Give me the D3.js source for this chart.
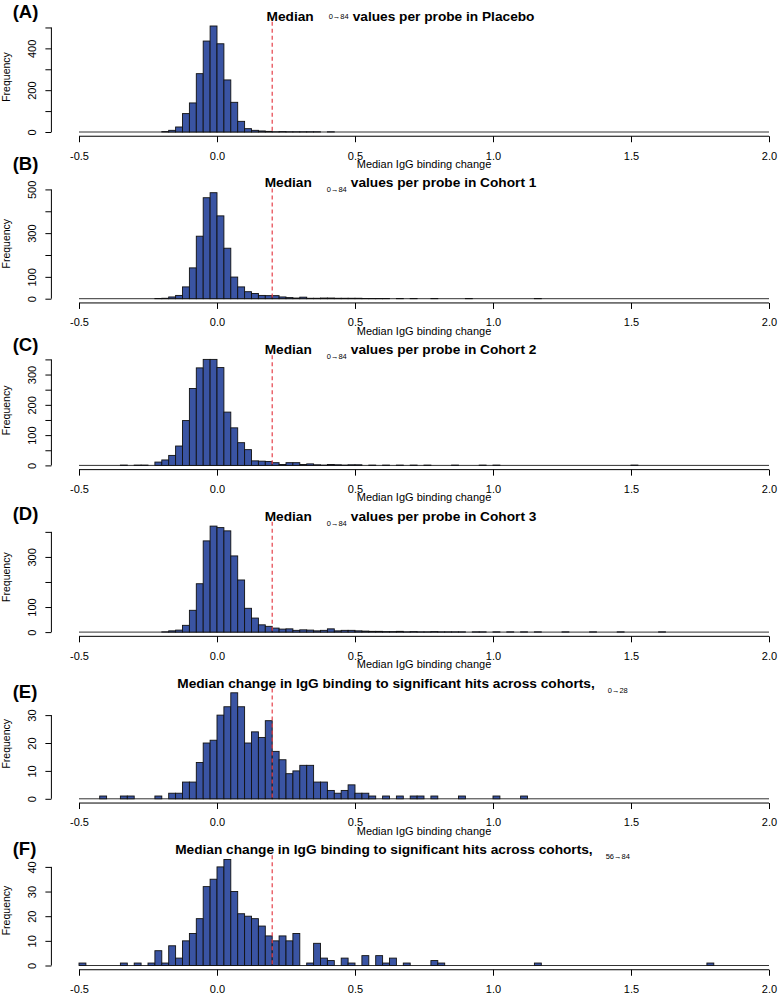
<!DOCTYPE html>
<html><head><meta charset="utf-8">
<script src="https://cdn.jsdelivr.net/npm/d3@7"></script>
<style>html,body{margin:0;padding:0;background:#fff;} svg{display:block;}</style>
</head><body>
<svg id="chart" width="779" height="996"></svg>
<script>
// ---------------- DATA ----------------
const binWidth = 0.025;
const xRange = [-0.5, 2.0];
const refLine = 0.2;

const edgesA  = [-0.2,-0.175,-0.15,-0.125,-0.1,-0.075,-0.05,-0.025,0,0.025,0.05,0.075,0.1,0.125,0.15,0.175,0.2,0.225,0.25,0.275,0.3,0.325,0.35,0.4];
const countsA = [2,8,24,88,139,279,435,507,422,249,142,51,16,8,5,3,1,2,1,1,1,1,1,1];

const edgesB  = [-0.225,-0.2,-0.175,-0.15,-0.125,-0.1,-0.075,-0.05,-0.025,0,0.025,0.05,0.075,0.1,0.125,0.15,0.175,0.2,0.225,0.25,0.275,0.3,0.325,0.35,0.375,0.4,0.425,0.45,0.475,0.5,0.525,0.55,0.575,0.6,0.65,0.7,0.775,0.9,1.15];
const countsB = [1,2,8,15,54,141,286,462,485,379,231,99,54,32,24,15,14,14,8,5,3,7,2,2,3,3,2,2,2,2,1,1,1,1,1,1,1,1,1];

const edgesC  = [-0.35,-0.3,-0.275,-0.225,-0.2,-0.175,-0.15,-0.125,-0.1,-0.075,-0.05,-0.025,0,0.025,0.05,0.075,0.1,0.125,0.15,0.175,0.2,0.225,0.25,0.275,0.3,0.325,0.35,0.375,0.4,0.425,0.45,0.475,0.5,0.55,0.6,0.65,0.7,0.75,0.85,0.95,1.0,1.5];
const countsC = [1,1,1,11,18,33,64,148,254,322,350,350,323,176,124,75,52,15,14,13,9,3,9,9,3,5,2,1,3,2,1,2,2,1,1,1,1,1,1,1,1,1];

const edgesD  = [-0.2,-0.175,-0.15,-0.125,-0.1,-0.075,-0.05,-0.025,0,0.025,0.05,0.075,0.1,0.125,0.15,0.175,0.2,0.225,0.25,0.275,0.3,0.325,0.35,0.375,0.4,0.425,0.45,0.475,0.5,0.525,0.55,0.575,0.6,0.625,0.65,0.675,0.7,0.725,0.75,0.775,0.8,0.825,0.85,0.875,0.925,0.95,1.0,1.05,1.1,1.15,1.25,1.35,1.45,1.6];
const countsD = [1,5,8,27,87,193,364,423,417,404,304,208,95,56,29,23,16,12,13,7,9,8,5,7,13,5,7,7,5,4,3,3,2,2,3,1,2,1,1,2,1,1,1,1,1,1,1,1,1,1,1,1,1,1];

const edgesE  = [-0.425,-0.35,-0.325,-0.225,-0.175,-0.15,-0.125,-0.1,-0.075,-0.05,-0.025,0,0.025,0.05,0.075,0.1,0.125,0.15,0.175,0.2,0.225,0.25,0.275,0.3,0.325,0.35,0.375,0.4,0.425,0.45,0.475,0.5,0.525,0.55,0.6,0.65,0.7,0.725,0.775,0.875,1.0,1.1];
const countsE = [1,1,1,1,2,2,6,6,13,20,21,30,33,38,33,20,24,22,28,17,14,9,10,12,12,6,6,3,2,3,5,2,2,1,1,1,1,1,1,1,1,1];

const edgesF  = [-0.5,-0.35,-0.3,-0.25,-0.225,-0.2,-0.175,-0.15,-0.125,-0.1,-0.075,-0.05,-0.025,0,0.025,0.05,0.075,0.1,0.125,0.15,0.175,0.2,0.225,0.25,0.275,0.325,0.35,0.375,0.4,0.45,0.475,0.525,0.575,0.6,0.625,0.675,0.775,0.8,1.15,1.775];
const countsF = [1,1,1,1,6,1,8,3,10,13,19,32,35,40,43,30,21,20,19,16,12,10,12,10,13,1,9,3,2,3,1,4,4,1,3,1,2,1,1,1];

const xTicks = [-0.5, 0, 0.5, 1.0, 1.5, 2.0];
const xTickLabels = ["-0.5", "0.0", "0.5", "1.0", "1.5", "2.0"];

const yTicksA = [0,100,200,300,400,500]; const yLabelsA = [0,200,400];
const yTicksB = [0,100,200,300,400,500]; const yLabelsB = [0,100,300,500];
const yTicksC = [0,50,100,150,200,250,300,350]; const yLabelsC = [0,100,200,300];
const yTicksD = [0,100,200,300,400]; const yLabelsD = [0,100,300];
const yTicksE = [0,10,20,30]; const yLabelsE = [0,10,20,30];
const yTicksF = [0,10,20,30,40]; const yLabelsF = [0,10,20,30,40];

const panelLetters = ["(A)","(B)","(C)","(D)","(E)","(F)"];
const titleMain = ["Median","Median","Median","Median",
  "Median change in IgG binding to significant hits across cohorts,",
  "Median change in IgG binding to significant hits across cohorts,"];
const titleSub = ["0\u219284","0\u219284","0\u219284","0\u219284","0\u219228","56\u219284"];
const titleTail = ["values per probe in Placebo","values per probe in Cohort 1",
  "values per probe in Cohort 2","values per probe in Cohort 3","",""];
const xLabel = "Median IgG binding change";
const yLabel = "Frequency";

// ---------------- LAYOUT ----------------
const panels = [
  {edges: edgesA, counts: countsA, yTicks: yTicksA, yLabels: yLabelsA},
  {edges: edgesB, counts: countsB, yTicks: yTicksB, yLabels: yLabelsB},
  {edges: edgesC, counts: countsC, yTicks: yTicksC, yLabels: yLabelsC},
  {edges: edgesD, counts: countsD, yTicks: yTicksD, yLabels: yLabelsD},
  {edges: edgesE, counts: countsE, yTicks: yTicksE, yLabels: yLabelsE},
  {edges: edgesF, counts: countsF, yTicks: yTicksF, yLabels: yLabelsF}
];
const FONT = "'Liberation Sans', Arial, Helvetica, sans-serif";
const plotLeft = 51.4, plotRight = 796.6;
const firstZero = 132, panelStep = 166.7, barSpan = 106;
const letterBaselines = [18, 169.5, 350.5, 519.5, 698, 854.5];
const titleCenters = [400.5, 400.5, 400.5, 400.5, 402.5, 402.5];
const subShift = [-2, 5, 5, 5, 5, 5];
const barFill = "#3a54a3";

const svg = d3.select("#chart");
const pad = 0.04 * (xRange[1] - xRange[0]);
const x = d3.scaleLinear().domain([xRange[0] - pad, xRange[1] + pad]).range([plotLeft, plotRight]);

panels.forEach((p, i) => {
  const y0 = firstZero + i * panelStep;
  const maxC = d3.max(p.counts);
  const y = d3.scaleLinear().domain([0, maxC]).range([y0, y0 - barSpan]);
  const yBottom = y(-0.04 * maxC), yTop = y(1.04 * maxC);
  const g = svg.append("g");

  // zero-count baseline (borders of empty bins)
  g.append("line")
    .attr("x1", x(xRange[0])).attr("x2", x(xRange[1]))
    .attr("y1", y(0)).attr("y2", y(0))
    .attr("stroke", "#333").attr("stroke-width", 1);

  // bars
  g.selectAll("rect.bar").data(p.edges.map((e, k) => ({e, c: p.counts[k]})))
    .join("rect")
    .attr("class", "bar")
    .attr("x", d => x(d.e))
    .attr("width", d => x(d.e + binWidth) - x(d.e))
    .attr("y", d => y(d.c))
    .attr("height", d => y(0) - y(d.c))
    .attr("fill", barFill)
    .attr("stroke", "#111")
    .attr("stroke-width", 0.9);

  // reference dashed line
  g.append("line")
    .attr("x1", x(refLine)).attr("x2", x(refLine))
    .attr("y1", yTop).attr("y2", y(0))
    .attr("stroke", "#e5404a").attr("stroke-width", 1.2)
    .attr("stroke-dasharray", "4,3");

  // x axis
  const xa = g.append("g").attr("transform", `translate(0,${yBottom})`)
    .call(d3.axisBottom(x).tickValues(xTicks).tickSize(6)
      .tickFormat((d, k) => xTickLabels[k]));
  xa.select(".domain").remove();
  xa.append("line").attr("x1", x(xTicks[0])).attr("x2", x(xTicks[xTicks.length - 1]))
    .attr("y1", 0).attr("y2", 0).attr("stroke", "#000");
  xa.selectAll(".tick line").attr("stroke", "#000");
  xa.selectAll(".tick text").attr("y", 23.3).attr("dy", null)
    .attr("font-family", FONT).attr("font-size", 11).attr("fill", "#000");

  // y axis
  const ya = g.append("g").attr("transform", `translate(${plotLeft},0)`)
    .call(d3.axisLeft(y).tickValues(p.yTicks).tickSize(6)
      .tickFormat(d => p.yLabels.includes(d) ? String(d) : ""));
  ya.select(".domain").remove();
  ya.append("line").attr("x1", 0).attr("x2", 0)
    .attr("y1", y(p.yTicks[0])).attr("y2", y(p.yTicks[p.yTicks.length - 1]))
    .attr("stroke", "#000");
  ya.selectAll(".tick line").attr("stroke", "#000");
  ya.selectAll(".tick text")
    .attr("x", null).attr("dy", null)
    .attr("transform", "translate(-15.4,0) rotate(-90)")
    .attr("text-anchor", "middle")
    .attr("font-family", FONT).attr("font-size", 11).attr("fill", "#000");

  // y label
  g.append("text")
    .attr("transform", `translate(9.5,${(yTop + yBottom) / 2 - 2}) rotate(-90)`)
    .attr("text-anchor", "middle")
    .attr("font-family", FONT).attr("font-size", 10.5)
    .text(yLabel);

  // x label (last panel's is below the picture)
  if (i < panels.length - 1) {
    g.append("text")
      .attr("x", x((xRange[0] - pad + xRange[1] + pad) / 2))
      .attr("y", y0 + 36)
      .attr("text-anchor", "middle")
      .attr("font-family", FONT).attr("font-size", 11)
      .text(xLabel);
  }

  // title
  const tb = y0 - 111.3;
  const t = g.append("text")
    .attr("x", titleCenters[i]).attr("y", tb)
    .attr("text-anchor", "middle")
    .attr("font-family", FONT).attr("font-weight", "bold").attr("font-size", 13.7);
  t.append("tspan").text(titleMain[i]);
  t.append("tspan").attr("dx", i < 4 ? 15 : 13).attr("dy", subShift[i])
    .attr("font-weight", "normal").attr("font-size", 7.5).text(titleSub[i]);
  if (titleTail[i]) {
    t.append("tspan").attr("dx", 4).attr("dy", -subShift[i]).text(titleTail[i]);
  }

  // panel letter
  g.append("text")
    .attr("x", 12.7).attr("y", letterBaselines[i])
    .attr("font-family", FONT).attr("font-weight", "bold").attr("font-size", 18.5)
    .text(panelLetters[i]);
});
</script>
</body></html>
